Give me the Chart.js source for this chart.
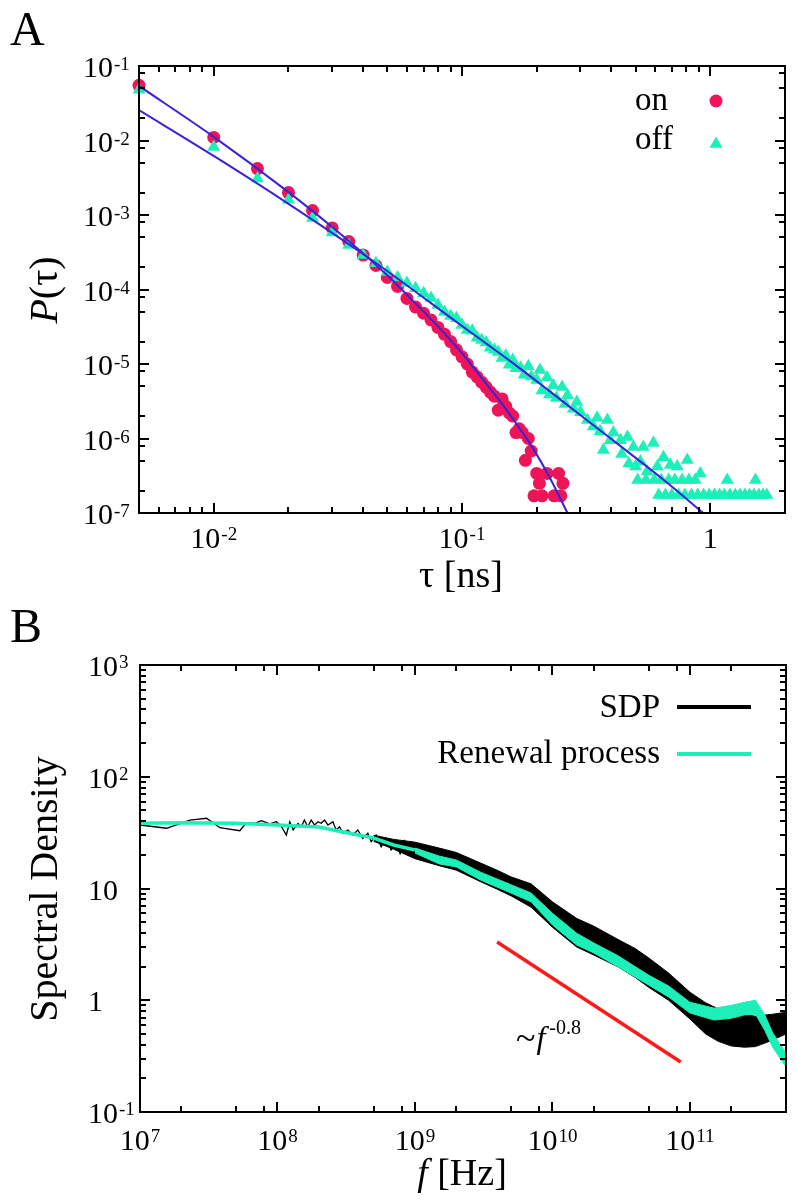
<!DOCTYPE html>
<html>
<head>
<meta charset="utf-8">
<script src="https://cdn.jsdelivr.net/npm/chart.js@4.4.1/dist/chart.umd.min.js"></script>
<style>
  html, body { margin: 0; padding: 0; background: #fff; }
  #wrap { position: relative; width: 796px; height: 1204px; }
  canvas { position: absolute; left: 0; }
  #chartA { top: 0; }
  #chartB { top: 600px; }
</style>
</head>
<body>
<div id="wrap">
  <canvas id="chartA" width="796" height="600"></canvas>
  <canvas id="chartB" width="796" height="604"></canvas>
</div>
<script>
// ---------- panel A: dwell time distributions ----------
const onTau = [0.005, 0.01, 0.015, 0.02, 0.025, 0.03, 0.035, 0.04, 0.045, 0.05, 0.055,
  0.06, 0.065, 0.07, 0.075, 0.08, 0.085, 0.09, 0.095, 0.1, 0.105, 0.11, 0.115, 0.12, 0.125,
  0.13, 0.135, 0.14, 0.145, 0.15, 0.155, 0.16, 0.165, 0.17, 0.175, 0.18, 0.185, 0.19,
  0.195, 0.2, 0.205, 0.21, 0.22, 0.235, 0.245, 0.25, 0.255];
const onP = [5.5e-2, 1.1e-2, 4.2e-3, 2.0e-3, 1.15e-3, 6.7e-4, 4.4e-4, 2.9e-4, 2.1e-4, 1.45e-4, 1.1e-4,
  7.6e-5, 5.8e-5, 4.8e-5, 3.9e-5, 3.1e-5, 2.5e-5, 2.0e-5, 1.55e-5, 1.25e-5, 1.0e-5, 7.8e-6, 6.7e-6, 5.7e-6, 4.9e-6,
  4.2e-6, 3.7e-6, 2.4e-6, 3.4e-6, 2.7e-6, 2.2e-6, 2.0e-6, 1.2e-6, 1.35e-6, 1.2e-6, 5.1e-7, 1.0e-6, 6.8e-7,
  1.7e-7, 3.4e-7, 2.5e-7, 1.7e-7, 3.4e-7, 1.7e-7, 3.4e-7, 1.7e-7, 2.5e-7];

const offTau = [0.005, 0.01, 0.015, 0.02, 0.025, 0.03, 0.035, 0.04, 0.045, 0.05, 0.055,
  0.06, 0.065, 0.07, 0.075, 0.08, 0.085, 0.09, 0.095, 0.1, 0.105, 0.11, 0.115, 0.12, 0.125,
  0.13, 0.135, 0.14, 0.145, 0.15, 0.155, 0.16, 0.165, 0.172, 0.178, 0.185, 0.19, 0.2, 0.206,
  0.21, 0.22, 0.225, 0.233, 0.24, 0.253, 0.26, 0.266, 0.281, 0.29, 0.3, 0.32, 0.338, 0.35,
  0.36, 0.371, 0.385, 0.395, 0.407, 0.435, 0.44, 0.464, 0.47, 0.49, 0.5, 0.51, 0.523, 0.537,
  0.55, 0.557, 0.59, 0.595, 0.612, 0.62, 0.635, 0.648, 0.66, 0.68, 0.69, 0.7, 0.72, 0.736,
  0.745, 0.77, 0.79, 0.808, 0.82, 0.84, 0.87, 0.89, 0.912, 0.94, 0.99, 1.04, 1.09, 1.14,
  1.17, 1.2, 1.26, 1.32, 1.38, 1.44, 1.5, 1.52, 1.57, 1.63, 1.69];
const offP = [4.8e-2, 8.2e-3, 3.1e-3, 1.6e-3, 9.1e-4, 5.8e-4, 3.95e-4, 2.9e-4, 2.25e-4, 1.72e-4, 1.45e-4,
  1.22e-4, 1.04e-4, 8.9e-5, 7.7e-5, 6.2e-5, 5.0e-5, 4.4e-5, 4.1e-5, 3.35e-5, 2.85e-5, 2.8e-5, 2.25e-5, 2.1e-5, 1.95e-5,
  1.65e-5, 1.55e-5, 1.45e-5, 1.2e-5, 1.3e-5, 9.8e-6, 1.13e-5, 8.8e-6, 8.9e-6, 7.2e-6, 9.3e-6, 6.8e-6, 6.1e-6, 8.3e-6,
  4.4e-6, 6.6e-6, 3.9e-6, 5.2e-6, 3.5e-6, 4.9e-6, 2.9e-6, 3.8e-6, 2.5e-6, 3.1e-6, 2.25e-6, 1.77e-6, 1.45e-6, 1.9e-6,
  1.25e-6, 7.0e-7, 1.77e-6, 9.5e-7, 1.2e-6, 9.5e-7, 6.2e-7, 1.05e-6, 4.6e-7, 7.7e-7, 4.2e-7, 2.77e-7, 4.9e-7, 7.7e-7,
  2.77e-7, 3.6e-7, 8.7e-7, 2.77e-7, 4.2e-7, 1.75e-7, 2.77e-7, 5.6e-7, 1.75e-7, 2.77e-7, 4.4e-7, 1.75e-7, 2.77e-7, 4.2e-7,
  1.75e-7, 2.77e-7, 1.75e-7, 5.15e-7, 2.77e-7, 1.75e-7, 2.77e-7, 1.75e-7, 3.4e-7, 1.75e-7, 1.75e-7, 1.75e-7, 1.75e-7, 1.75e-7,
  2.77e-7, 1.75e-7, 1.75e-7, 1.75e-7, 1.75e-7, 1.75e-7, 1.75e-7, 2.77e-7, 1.75e-7, 1.75e-7, 1.75e-7];

const onFitTau = [0.005, 0.01, 0.02, 0.03, 0.04, 0.05, 0.06, 0.08, 0.1, 0.12, 0.15, 0.192, 0.228, 0.266];
const onFitP = [5.4e-2, 1.12e-2, 2.03e-3, 6.9e-4, 3.05e-4, 1.55e-4, 8.5e-5, 3.2e-5, 1.4e-5, 6.5e-6, 2.5e-6, 7.6e-7, 2.8e-7, 1.0e-7];
const offFitTau = [0.005, 0.01, 0.02, 0.045, 0.1, 0.156, 0.35, 0.65, 0.937];
const offFitP = [2.56e-2, 6.2e-3, 1.41e-3, 2.27e-4, 3.24e-5, 1.1e-5, 1.38e-6, 2.77e-7, 1.0e-7];

const tauMajor = [0.01, 0.1, 1];
const tauLabels = ['10^-2', '10^-1', '1'];
const tauMinor = [0.006, 0.007, 0.008, 0.009, 0.02, 0.03, 0.04, 0.05, 0.06, 0.07, 0.08, 0.09,
  0.2, 0.3, 0.4, 0.5, 0.6, 0.7, 0.8, 0.9];
const pMajor = [1e-1, 1e-2, 1e-3, 1e-4, 1e-5, 1e-6, 1e-7];
const pLabels = ['10^-1', '10^-2', '10^-3', '10^-4', '10^-5', '10^-6', '10^-7'];
const pMinor = [8e-2, 5e-2, 2e-2, 8e-3, 5e-3, 2e-3, 8e-4, 5e-4, 2e-4, 8e-5, 5e-5, 2e-5,
  8e-6, 5e-6, 2e-6, 8e-7, 5e-7, 2e-7];

// ---------- panel B: spectral density ----------
const sdpFreq = [1.0e7, 1.56e7, 2.31e7, 3.05e7, 3.81e7, 5.32e7, 5.95e7, 6.83e7, 7.64e7, 8.78e7, 9.8e7,
  1.07e8, 1.16e8, 1.23e8, 1.30e8, 1.41e8, 1.49e8, 1.57e8, 1.66e8, 1.76e8, 1.86e8, 1.97e8, 2.08e8,
  2.20e8, 2.33e8, 2.53e8, 2.67e8, 2.83e8, 2.99e8, 3.25e8, 3.53e8, 3.84e8, 4.17e8, 4.54e8, 4.80e8,
  5.22e8, 5.68e8, 6.17e8, 6.71e8, 7.29e8, 7.8e8, 8.4e8, 9.0e8];
const sdpVal = [37.0, 34.6, 41.0, 42.5, 35.0, 32.9, 38.8, 38.3, 40.4, 37.8, 39.6,
  35.7, 30.1, 39.6, 33.4, 38.2, 35.7, 41.0, 35.7, 41.0, 37.0, 39.6, 38.3,
  41.0, 37.0, 39.6, 33.4, 35.7, 31.2, 33.4, 30.1, 33.4, 28.1, 31.2, 26.2,
  30.1, 23.6, 28.1, 22.1, 25.2, 20.5, 26.5, 19.8];
const sdpBandFreq = [5e8, 7e8, 1e9, 1.5e9, 2e9, 3e9, 4e9, 5e9, 7e9, 1e10, 1.5e10, 2e10, 3e10, 4e10,
  5e10, 7e10, 1e11, 1.3e11, 1.6e11, 2e11, 2.5e11, 3e11, 4e11, 5e11];
const sdpUpper = [30.0, 27.5, 26.0, 23.0, 21.0, 16.9, 14.5, 12.7, 11.0, 7.6, 5.4, 4.6, 3.5, 2.9,
  2.4, 1.75, 1.18, 0.95, 0.84, 0.78, 0.74, 0.72, 0.75, 0.78];
const sdpLower = [26.5, 22.5, 18.5, 16.0, 14.6, 11.5, 9.8, 8.6, 6.8, 4.5, 3.0, 2.54, 1.99, 1.6,
  1.31, 1.0, 0.68, 0.5, 0.43, 0.39, 0.38, 0.385, 0.44, 0.5];

const renFreq = [1e7, 2e7, 3e7, 5e7, 1e8, 2e8, 3e8, 5e8, 7e8, 1e9];
const renVal = [38.3, 38.8, 38.6, 38.3, 37.0, 35.5, 32.0, 28.3, 24.5, 22.1];
const renBandFreq = [1e9, 1.5e9, 2e9, 3e9, 5e9, 7e9, 1e10, 1.5e10, 2e10, 3e10, 5e10, 7e10,
  1e11, 1.5e11, 2e11, 2.5e11, 3e11, 3.5e11, 4e11, 5e11];
const renUpper = [23.0, 19.5, 18.0, 14.0, 10.8, 9.1, 6.0, 3.98, 3.25, 2.5, 1.68, 1.34,
  0.96, 0.85, 0.9, 0.96, 1.0, 0.74, 0.51, 0.337];
const renLower = [20.8, 16.6, 15.6, 11.9, 9.1, 7.6, 4.71, 3.12, 2.65, 1.99, 1.37, 1.07,
  0.77, 0.665, 0.69, 0.74, 0.75, 0.54, 0.38, 0.253];

const slopeFreq = [3.96e9, 8.57e10];
const slopeVal = [3.32, 0.28];

const fMajor = [1e7, 1e8, 1e9, 1e10, 1e11];
const fLabels = ['10^7', '10^8', '10^9', '10^10', '10^11'];
const fMinor = [2e7, 5e7, 8e7, 2e8, 5e8, 8e8, 2e9, 5e9, 8e9, 2e10, 5e10, 8e10, 2e11];
const sMajor = [1e3, 1e2, 10, 1, 0.1];
const sLabels = ['10^3', '10^2', '10', '1', '10^-1'];
const sMinor = [0.2, 0.3, 0.4, 0.5, 0.6, 0.7, 0.8, 0.9, 2, 3, 4, 5, 6, 7, 8, 9,
  20, 30, 40, 50, 60, 70, 80, 90, 200, 300, 400, 500, 600, 700, 800, 900];

const PINK = '#ee1458';
const GREEN = '#1cf0b8';
const BLUE = '#3a22d8';
const SERIF = '"Liberation Serif", "Times New Roman", serif';

const pairs = (xs, ys) => xs.map((v, i) => ({ x: v, y: ys[i] }));
const font = (size, it) => (it ? 'italic ' : '') + size + 'px ' + SERIF;

// draw a run of text pieces, some italic / raised
function textRun(ctx, parts, size, x, y, align) {
  let w = 0;
  parts.forEach(p => {
    ctx.font = font(p.size || size, p.it);
    p.w = ctx.measureText(p.t).width + (p.gap || 0);
    w += p.w;
  });
  let cx = align === 'center' ? x - w / 2 : align === 'right' ? x - w : x;
  ctx.textAlign = 'left';
  ctx.textBaseline = 'alphabetic';
  parts.forEach(p => {
    ctx.font = font(p.size || size, p.it);
    ctx.fillText(p.t, cx + (p.gap || 0), y - (p.up || 0));
    cx += p.w;
  });
}

function powLabel(ctx, label, x, y, align, raise) {
  const [b, e] = label.split('^');
  const parts = [{ t: b }];
  if (e) parts.push({ t: e, size: 19, up: raise, gap: 1 });
  textRun(ctx, parts, 30, x, y, align);
}

function drawBox(chart, xMaj, xMin, yMaj, yMin) {
  const { ctx, chartArea: a } = chart;
  const xs = chart.scales.x, ys = chart.scales.y;
  ctx.save();
  ctx.strokeStyle = '#000';
  ctx.lineWidth = 2;
  ctx.beginPath();
  const tick = (vals, len) => {
    vals.forEach(v => {
      const px = Math.round(xs.getPixelForValue(v));
      ctx.moveTo(px, a.bottom); ctx.lineTo(px, a.bottom - len);
      ctx.moveTo(px, a.top); ctx.lineTo(px, a.top + len);
    });
  };
  const ytick = (vals, len) => {
    vals.forEach(v => {
      const py = Math.round(ys.getPixelForValue(v));
      ctx.moveTo(a.left, py); ctx.lineTo(a.left + len, py);
      ctx.moveTo(a.right, py); ctx.lineTo(a.right - len, py);
    });
  };
  tick(xMaj, 10); tick(xMin, 6);
  ytick(yMaj, 10); ytick(yMin, 6);
  ctx.stroke();
  ctx.strokeRect(a.left, a.top, a.right - a.left, a.bottom - a.top);
  ctx.restore();
}

const panelA = {
  id: 'panelA',
  afterDraw(chart) {
    const { ctx, chartArea: a } = chart;
    const xs = chart.scales.x, ys = chart.scales.y;
    drawBox(chart, tauMajor, tauMinor, pMajor, pMinor);
    ctx.save();
    ctx.fillStyle = '#000';
    tauMajor.forEach((v, i) => powLabel(ctx, tauLabels[i], xs.getPixelForValue(v), a.bottom + 35, 'center', 8));
    pMajor.forEach((v, i) => powLabel(ctx, pLabels[i], 83, ys.getPixelForValue(v) + 11, 'left', 7));
    textRun(ctx, [{ t: 'τ [ns]' }], 38, 461, 587, 'center');
    ctx.save();
    ctx.translate(57, 290);
    ctx.rotate(-Math.PI / 2);
    textRun(ctx, [{ t: 'P', it: true }, { t: '(τ)' }], 40, 0, 0, 'center');
    ctx.restore();
    textRun(ctx, [{ t: 'A' }], 48, 10, 45, 'left');
    // legend
    textRun(ctx, [{ t: 'on' }], 33, 635, 110, 'left');
    textRun(ctx, [{ t: 'off' }], 33, 635, 149, 'left');
    ctx.fillStyle = PINK;
    ctx.beginPath(); ctx.arc(716, 101, 6.5, 0, Math.PI * 2); ctx.fill();
    ctx.fillStyle = GREEN;
    const r = 7.5, cy = 144;
    ctx.beginPath();
    ctx.moveTo(716, cy - r);
    ctx.lineTo(716 + r * Math.sin(Math.PI * 2 / 3), cy - r * Math.cos(Math.PI * 2 / 3));
    ctx.lineTo(716 - r * Math.sin(Math.PI * 2 / 3), cy - r * Math.cos(Math.PI * 2 / 3));
    ctx.closePath(); ctx.fill();
    ctx.restore();
  }
};

const panelB = {
  id: 'panelB',
  afterDraw(chart) {
    const { ctx, chartArea: a } = chart;
    const xs = chart.scales.x, ys = chart.scales.y;
    drawBox(chart, fMajor, fMinor, sMajor, sMinor);
    ctx.save();
    ctx.fillStyle = '#000';
    fMajor.forEach((v, i) => powLabel(ctx, fLabels[i], xs.getPixelForValue(v), a.bottom + 38, 'center', 8));
    sMajor.forEach((v, i) => powLabel(ctx, sLabels[i], 88, ys.getPixelForValue(v) + 11, 'left', 8));
    textRun(ctx, [{ t: 'f', it: true }, { t: ' [Hz]' }], 38, 462, 585, 'center');
    ctx.save();
    ctx.translate(57, 289);
    ctx.rotate(-Math.PI / 2);
    textRun(ctx, [{ t: 'Spectral Density' }], 40, 0, 0, 'center');
    ctx.restore();
    textRun(ctx, [{ t: 'B' }], 48, 10, 42, 'left');
    // legend
    textRun(ctx, [{ t: 'SDP' }], 33, 660, 117, 'right');
    textRun(ctx, [{ t: 'Renewal process' }], 33, 660, 163, 'right');
    ctx.lineWidth = 4;
    ctx.strokeStyle = '#000';
    ctx.beginPath(); ctx.moveTo(677, 107); ctx.lineTo(751, 107); ctx.stroke();
    ctx.strokeStyle = GREEN;
    ctx.beginPath(); ctx.moveTo(677, 154); ctx.lineTo(751, 154); ctx.stroke();
    // slope annotation
    ctx.fillStyle = '#000';
    textRun(ctx, [{ t: '~', size: 36, up: -2 }, { t: 'f', it: true, gap: 1 },
      { t: '-0.8', size: 20, up: 14, gap: 4 }], 32, 516, 448, 'left');
    ctx.restore();
  }
};

const baseOpts = (pad, xr, yr) => ({
  responsive: false,
  animation: false,
  events: [],
  layout: { padding: pad },
  scales: {
    x: { type: 'logarithmic', min: xr[0], max: xr[1], display: false },
    y: { type: 'logarithmic', min: yr[0], max: yr[1], display: false }
  },
  plugins: { legend: { display: false }, tooltip: { enabled: false } }
});

new Chart(document.getElementById('chartA'), {
  type: 'scatter',
  data: {
    datasets: [
      { type: 'line', label: 'on fit', data: pairs(onFitTau, onFitP), borderColor: BLUE, borderWidth: 2,
        pointRadius: 0, fill: false, cubicInterpolationMode: 'monotone' },
      { type: 'line', label: 'off fit', data: pairs(offFitTau, offFitP), borderColor: BLUE, borderWidth: 2,
        pointRadius: 0, fill: false, cubicInterpolationMode: 'monotone' },
      { label: 'off', data: pairs(offTau, offP), pointStyle: 'triangle', pointRadius: 7.5,
        backgroundColor: GREEN, borderWidth: 0, clip: false },
      { label: 'on', data: pairs(onTau, onP), pointStyle: 'circle', pointRadius: 6.5,
        backgroundColor: PINK, borderWidth: 0, clip: false }
    ]
  },
  options: baseOpts({ left: 139, right: 11, top: 66, bottom: 87 }, [0.005, 2], [1e-7, 1e-1]),
  plugins: [panelA]
});

const lineDs = (label, xs, ys, color, width, fill) => ({
  label, data: pairs(xs, ys), borderColor: color, borderWidth: width, pointRadius: 0,
  tension: 0, fill: fill || false, backgroundColor: color
});

new Chart(document.getElementById('chartB'), {
  type: 'line',
  data: {
    datasets: [
      lineDs('slope', slopeFreq, slopeVal, '#ff1a1a', 3.5),
      lineDs('Renewal process', renFreq, renVal, GREEN, 3.5),
      lineDs('ren upper', renBandFreq, renUpper, GREEN, 1),
      lineDs('ren lower', renBandFreq, renLower, GREEN, 1, '-1'),
      lineDs('SDP', sdpFreq, sdpVal, '#000', 1.3),
      lineDs('sdp upper', sdpBandFreq, sdpUpper, '#000', 1),
      lineDs('sdp lower', sdpBandFreq, sdpLower, '#000', 1, '-1')
    ]
  },
  options: baseOpts({ left: 140, right: 10, top: 65, bottom: 92 }, [1e7, 5e11], [0.1, 1000]),
  plugins: [panelB]
});
</script>
</body>
</html>
